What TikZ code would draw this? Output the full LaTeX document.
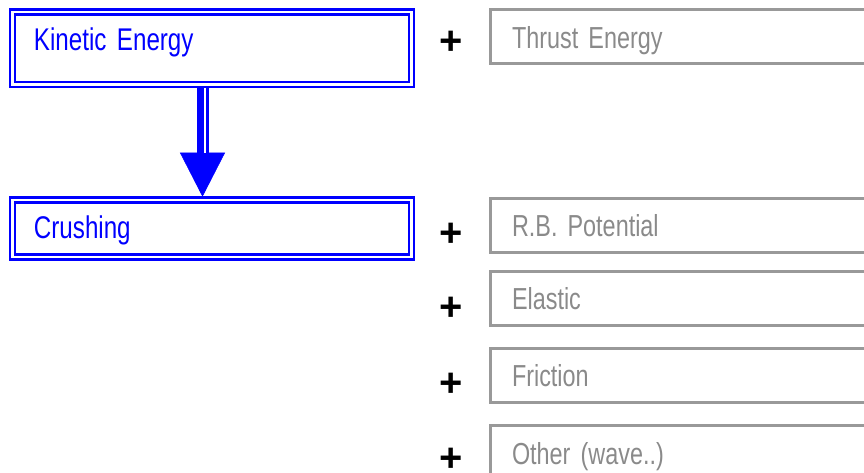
\documentclass[tikz,border=0pt]{standalone}
\usepackage{fontspec}
\setmainfont{Liberation Sans}[FakeStretch=0.77]
\newfontfamily\plusfont{Liberation Sans}
\usepackage{tikz}
\usetikzlibrary{arrows.meta}
\definecolor{boxgray}{HTML}{999999}
\definecolor{textgray}{HTML}{8A8A8A}

\tikzset{
  stage/.style={draw=blue, text=blue, line width=2.5bp, double=white, double distance=2.5bp,
    outer sep=0pt, inner xsep=21.5bp, inner ysep=0pt, text width=356bp, align=left,
    font=\fontsize{31.5}{36}\selectfont, text height=19.6bp, text depth=0pt},
  term/.style={draw=boxgray, text=textgray, line width=3bp, anchor=west,
    outer sep=0pt, inner xsep=21.5bp, inner ysep=0pt, text width=347.5bp, align=left,
    minimum height=53.5bp, font=\fontsize{30.5}{36}\selectfont, text height=23bp, text depth=0pt},
  plus/.style={font=\plusfont\bfseries\fontsize{40}{42}\selectfont, inner sep=0pt,
    text height=28bp, text depth=0pt}
}

\begin{document}
\begin{tikzpicture}[x=1bp, y=-1bp]
  \clip (0,0) rectangle (864,473);
  % energy before / after
  \node[stage, minimum height=72.5bp, text depth=14.1bp] (kin) at (212,48.25) {Kinetic Energy};
  \node[stage, minimum height=57bp] (crush) at (212,228.5) {Crushing};
  \draw[blue, line width=12bp, shorten <=3.75bp, shorten >=3.3bp,
    -{Triangle[length=44bp, width=45bp, line width=0.5bp]}]
    ([xshift=-9.5bp]kin.south) -- ([xshift=-9.5bp]crush.north);
  \draw[white, line width=2bp, shorten <=3.75bp, shorten >=47bp]
    ([xshift=-7bp]kin.south) -- ([xshift=-7bp]crush.north);

  % other terms
  \node[term] (thrust) at (490.5,36.75) {Thrust Energy};
  \node[term] (rbpot) at (490.5,225.5) {R.B. Potential};
  \node[term] (elastic) at (490.5,298.5) {Elastic};
  \node[term] (friction) at (490.5,375.25) {Friction};
  \node[term] (other) at (490.5,452.5) {Other (wave..)};

  \node[plus] (p1) at (451.5,41) {+};
  \node[plus] (p2) at (451.5,233) {+};
  \node[plus] (p3) at (451.5,307) {+};
  \node[plus] (p4) at (451.5,382) {+};
  \node[plus] (p5) at (451.5,457) {+};
\end{tikzpicture}
\end{document}
